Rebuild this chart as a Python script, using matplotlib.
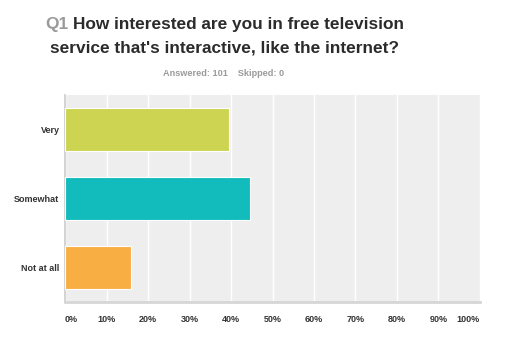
import matplotlib.pyplot as plt
import numpy as np

# survey answers (Q1)
categories = ['Very', 'Somewhat', 'Not at all']
percents = [39.60, 44.55, 15.84]
colors = ['#cdd452', '#12bcbd', '#f9ae43']
xticks = [0, 10, 20, 30, 40, 50, 60, 70, 80, 90, 100]
xtick_labels = ['0%', '10%', '20%', '30%', '40%', '50%', '60%', '70%', '80%', '90%', '100%']

plt.rcParams['font.family'] = ['Liberation Sans', 'DejaVu Sans']

fig = plt.figure(figsize=(5.18, 3.40), dpi=100)
W, H = 518, 340
ax = fig.add_axes([65 / W, 1 - 302 / H, (480 - 65) / W, (302 - 95) / H])
ax.set_facecolor('#eeeeee')

y = np.arange(len(categories))
ax.barh(y, percents, height=0.63, color=colors, edgecolor='white', linewidth=0.8, zorder=3)
ax.set_ylim(len(categories) - 0.5, -0.5)
ax.set_xlim(0, 100)

ax.set_xticks(xticks)
ax.set_xticklabels(xtick_labels)
ax.set_yticks(y)
ax.set_yticklabels(categories)
ax.grid(axis='x', color='white', linewidth=1.0, zorder=1)
ax.tick_params(length=0, labelsize=6.5, labelcolor='#333333')
ax.tick_params(axis='y', pad=4)
ax.tick_params(axis='x', pad=9)
for lbl in ax.get_xticklabels() + ax.get_yticklabels():
    lbl.set_fontweight('bold')
xl = ax.get_xticklabels()
xl[0].set_ha('left')
xl[-1].set_ha('right')

for s in ['top', 'right']:
    ax.spines[s].set_visible(False)
ax.spines['left'].set_color('#cccccc')
ax.spines['left'].set_linewidth(1.2)
ax.spines['bottom'].set_color('#d6d6d6')
ax.spines['bottom'].set_linewidth(2)

# title
fig.text(45 / W, 1 - 25 / H, 'Q1', fontsize=12.4, fontweight='bold', color='#9a9a9a', va='center')
fig.text(73 / W, 1 - 25 / H, 'How interested are you in free television', fontsize=12.4,
         fontweight='bold', color='#2b2b2b', va='center')
fig.text(50 / W, 1 - 48 / H, "service that's interactive, like the internet?", fontsize=12.4,
         fontweight='bold', color='#2b2b2b', va='center')
fig.text(224 / W, 1 - 73 / H, 'Answered: 101    Skipped: 0', fontsize=6.6, fontweight='bold',
         color='#9a9a9a', va='center', ha='center')

fig.savefig('out.png', dpi=100)
